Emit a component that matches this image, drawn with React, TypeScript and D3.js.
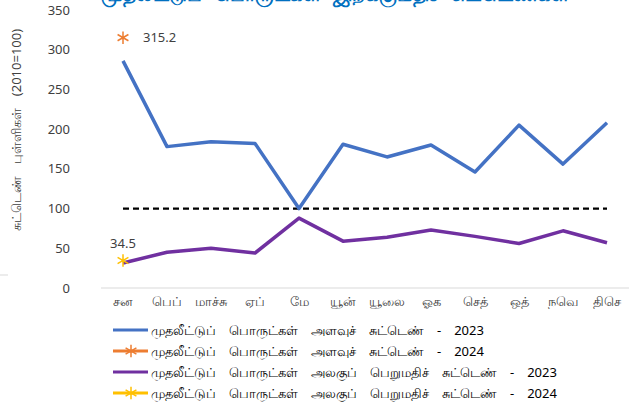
import React, { useLayoutEffect, useRef, useState } from "react";
import * as d3 from "d3";

const months = ["சன", "பெப்", "மாச்சு", "ஏப்", "மே", "யூன்", "யூலை", "ஓக", "செத்", "ஒத்", "நவெ", "திசெ"];
const volume2023 = [286, 178, 184, 182, 100, 181, 165, 180, 146, 205, 156, 208];
const volume2024 = [315.2];
const unitValue2023 = [31.5, 45, 50, 44, 88, 59, 64, 73, 65, 56, 72, 57];
const unitValue2024 = [34.5];
const yTicks = [0, 50, 100, 150, 200, 250, 300, 350];
const baseline = 100;
const seriesNames = [
  "முதலீட்டுப் பொருட்கள் அளவுச் சுட்டெண் - 2023",
  "முதலீட்டுப் பொருட்கள் அளவுச் சுட்டெண் - 2024",
  "முதலீட்டுப் பொருட்கள் அலகுப் பெறுமதிச் சுட்டெண் - 2023",
  "முதலீட்டுப் பொருட்கள் அலகுப் பெறுமதிச் சுட்டெண் - 2024",
];
const colors = ["#4472C4", "#ED7D31", "#7030A0", "#FFC000"];
const title = "முதலீட்டுப் பொருட்கள் இறக்குமதிச் சுட்டெண்கள்";
const yTitle = "சுட்டெண் புள்ளிகள் (2010=100)";

const FONT = "'Noto Sans', 'Lato', sans-serif";

type WRProps = {
  text: string;
  gap: number;
  anchor?: "start" | "middle";
  transform: string;
  fontSize: number;
  fill: string;
  fontWeight?: string;
  dy?: string;
};

function WordRow({ text, gap, anchor = "start", transform, fontSize, fill, fontWeight, dy }: WRProps) {
  const words = text.split(" ");
  const refs = useRef<(SVGTextElement | null)[]>([]);
  const [widths, setWidths] = useState<number[] | null>(null);
  useLayoutEffect(() => {
    setWidths(refs.current.slice(0, words.length).map((r) => (r ? r.getComputedTextLength() : 0)));
  }, [text, fontSize]);
  const ws = widths || words.map((w) => w.length * fontSize * 0.5);
  const total = d3.sum(ws) + gap * (words.length - 1);
  let pos = anchor === "middle" ? -total / 2 : 0;
  const xs = ws.map((w) => {
    const p = pos;
    pos += w + gap;
    return p;
  });
  return (
    <g transform={transform}>
      {words.map((w, i) => (
        <text
          key={i}
          ref={(el) => { refs.current[i] = el; }}
          x={xs[i]}
          y={0}
          dy={dy}
          fontSize={fontSize}
          fill={fill}
          fontWeight={fontWeight}
        >
          {w}
        </text>
      ))}
    </g>
  );
}

export default function App() {
  const W = 631, H = 404;
  const x = d3.scaleBand<string>().domain(months).range([101, 629]);
  const y = d3.scaleLinear().domain([0, 350]).range([288, 10]);
  const cx = (i: number) => (x(months[i]) as number) + x.bandwidth() / 2;
  const line = d3.line<number>().x((_, i) => cx(i)).y((d) => y(d));
  const star = d3.symbol().type(d3.symbolAsterisk).size(110)();

  return (
    <div style={{ position: "absolute", left: 0, top: 0 }}>
      <svg width={W} height={H} style={{ display: "block", background: "#fff" }} fontFamily={FONT}>
        <WordRow text={title} gap={12} anchor="middle" transform="translate(335,1)" fontSize={20} fontWeight="bold" fill="#0070C0" />
        <line x1={0} x2={8} y1={275} y2={275} stroke="#d9d9d9" strokeWidth={1} />
        <WordRow text={yTitle} gap={12} anchor="middle" transform="translate(21,130) rotate(-90)" fontSize={13} fill="#404040" />
        {yTicks.map((t) => (
          <text key={t} x={70} y={y(t)} dy="0.35em" textAnchor="end" fontSize={13} fill="#404040">{t}</text>
        ))}
        <line x1={101} x2={629} y1={y(0)} y2={y(0)} stroke="#d9d9d9" strokeWidth={1} />
        {months.map((m, i) => (
          <text key={m} x={cx(i)} y={306} textAnchor="middle" fontSize={13} fill="#404040">{m}</text>
        ))}
        <line x1={cx(0)} x2={cx(months.length - 1)} y1={y(baseline)} y2={y(baseline)} stroke="#000" strokeWidth={2.2} strokeDasharray="6,4" />
        <path d={line(volume2023) || ""} fill="none" stroke={colors[0]} strokeWidth={3.5} strokeLinejoin="round" />
        <path d={line(unitValue2023) || ""} fill="none" stroke={colors[2]} strokeWidth={3.5} strokeLinejoin="round" />
        {volume2024.map((v, i) => (
          <g key={"o" + i}>
            <path d={star || ""} transform={`translate(${cx(i)},${y(v)})`} stroke={colors[1]} strokeWidth={1.5} fill="none" />
            <text x={cx(i) + 20} y={y(v)} dy="0.35em" fontSize={13} fill="#404040">{v.toFixed(1)}</text>
          </g>
        ))}
        {unitValue2024.map((v, i) => (
          <g key={"y" + i}>
            <path d={star || ""} transform={`translate(${cx(i)},${y(v)})`} stroke={colors[3]} strokeWidth={1.5} fill="none" />
            <text x={cx(i)} y={y(v) - 17} dy="0.35em" textAnchor="middle" fontSize={13} fill="#404040">{v.toFixed(1)}</text>
          </g>
        ))}
        {seriesNames.map((n, i) => {
          const ly = 330 + i * 21;
          return (
            <g key={n}>
              <line x1={113} x2={148} y1={ly} y2={ly} stroke={colors[i]} strokeWidth={3} />
              {i % 2 === 1 && (
                <path d={star || ""} transform={`translate(131,${ly})`} stroke={colors[i]} strokeWidth={1.5} fill="none" />
              )}
              <WordRow text={n} gap={13} transform={`translate(151,${ly})`} dy="0.35em" fontSize={13} fill="#000" />
            </g>
          );
        })}
      </svg>
    </div>
  );
}
